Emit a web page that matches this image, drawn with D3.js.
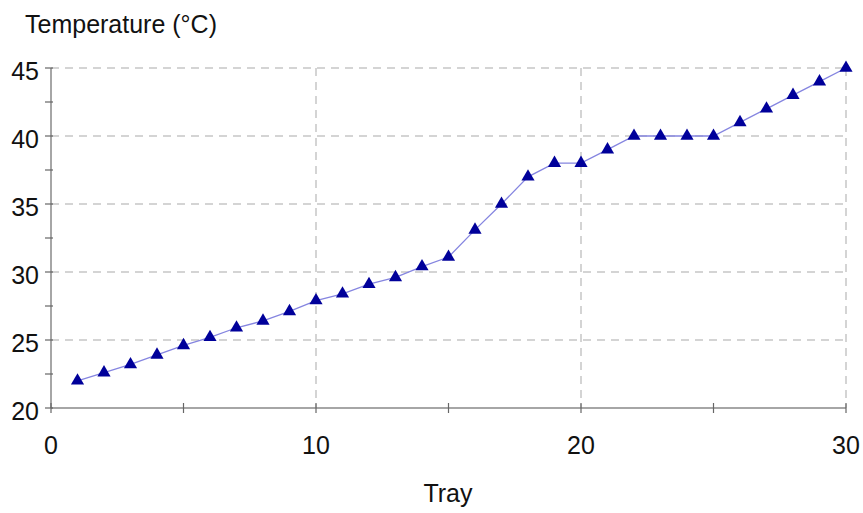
<!DOCTYPE html>
<html lang="en">
<head>
<meta charset="utf-8">
<title>Temperature by Tray</title>
<script src="https://d3js.org/d3.v7.min.js"></script>
<style>
  body { margin: 0; background: #fff; }
  text { font-family: "Liberation Sans", Arial, sans-serif; fill: #111; }
</style>
</head>
<body>
<div id="chart"></div>
<script>
var trays = d3.range(1, 31);
var temps = [22, 22.6, 23.2, 23.9, 24.6, 25.2, 25.9, 26.4, 27.1, 27.9,
             28.4, 29.1, 29.6, 30.4, 31.1, 33.1, 35, 37, 38, 38,
             39, 40, 40, 40, 40, 41, 42, 43, 44, 45];
var xTicks = [0, 10, 20, 30];
var xMinor = [0, 5, 10, 15, 20, 25, 30];
var yTicks = [20, 25, 30, 35, 40, 45];
var yMinor = [20, 22.5, 25, 27.5, 30, 32.5, 35, 37.5, 40, 42.5, 45];

var W = 863, H = 513;
var margin = { top: 68, right: 17, bottom: 105, left: 51 };
var width = W - margin.left - margin.right,
    height = H - margin.top - margin.bottom;

var x = d3.scaleLinear().domain([0, 30]).range([0, width]);
var y = d3.scaleLinear().domain([20, 45]).range([height, 0]);

var svg = d3.select("#chart").append("svg")
    .attr("width", W).attr("height", H);
var g = svg.append("g")
    .attr("transform", "translate(" + margin.left + "," + margin.top + ")");

// grid
g.selectAll(".hgrid").data(yTicks.slice(1)).enter().append("line")
    .attr("x1", 0).attr("x2", width)
    .attr("y1", function(d) { return y(d); }).attr("y2", function(d) { return y(d); })
    .attr("stroke", "#d4d4d4").attr("stroke-width", 2).attr("stroke-dasharray", "8,6");
g.selectAll(".vgrid").data(xTicks.slice(1)).enter().append("line")
    .attr("y1", 0).attr("y2", height)
    .attr("x1", function(d) { return x(d); }).attr("x2", function(d) { return x(d); })
    .attr("stroke", "#d4d4d4").attr("stroke-width", 2).attr("stroke-dasharray", "8,6");

// axes lines
g.append("line").attr("x1", 0).attr("x2", width).attr("y1", height).attr("y2", height)
    .attr("stroke", "#888").attr("stroke-width", 1.5);
g.append("line").attr("x1", 0).attr("x2", 0).attr("y1", 0).attr("y2", height)
    .attr("stroke", "#888").attr("stroke-width", 1.5);

// ticks
g.selectAll(".xt").data(xMinor).enter().append("line")
    .attr("x1", function(d) { return x(d); }).attr("x2", function(d) { return x(d); })
    .attr("y1", height - 5).attr("y2", height + 5)
    .attr("stroke", "#666").attr("stroke-width", 1.2);
g.selectAll(".yt").data(yMinor).enter().append("line")
    .attr("y1", function(d) { return y(d); }).attr("y2", function(d) { return y(d); })
    .attr("x1", -6).attr("x2", 2)
    .attr("stroke", "#666").attr("stroke-width", 1.2);

// tick labels
g.selectAll(".xl").data(xTicks).enter().append("text")
    .attr("x", function(d) { return x(d); }).attr("y", height + 46)
    .attr("text-anchor", "middle").style("font-size", "25px")
    .text(function(d) { return d; });
g.selectAll(".yl").data(yTicks).enter().append("text")
    .attr("x", -12).attr("y", function(d) { return y(d) + 12; })
    .attr("text-anchor", "end").style("font-size", "25px")
    .text(function(d) { return d; });

// axis titles
svg.append("text").attr("x", 25).attr("y", 33)
    .style("font-size", "25px").text("Temperature (°C)");
svg.append("text").attr("x", 448).attr("y", 502)
    .attr("text-anchor", "middle").style("font-size", "25px").text("Tray");

// line
var pts = trays.map(function(t, i) { return [t, temps[i]]; });
g.append("path").datum(pts)
    .attr("fill", "none").attr("stroke", "#8585e0").attr("stroke-width", 1.3)
    .attr("d", d3.line().x(function(d) { return x(d[0]); }).y(function(d) { return y(d[1]); }));

g.selectAll(".pt").data(pts).enter().append("path")
    .attr("transform", function(d) { return "translate(" + x(d[0]) + "," + y(d[1]) + ")"; })
    .attr("d", d3.symbol().type(d3.symbolTriangle).size(75))
    .attr("fill", "#00009a");
</script>
</body>
</html>
